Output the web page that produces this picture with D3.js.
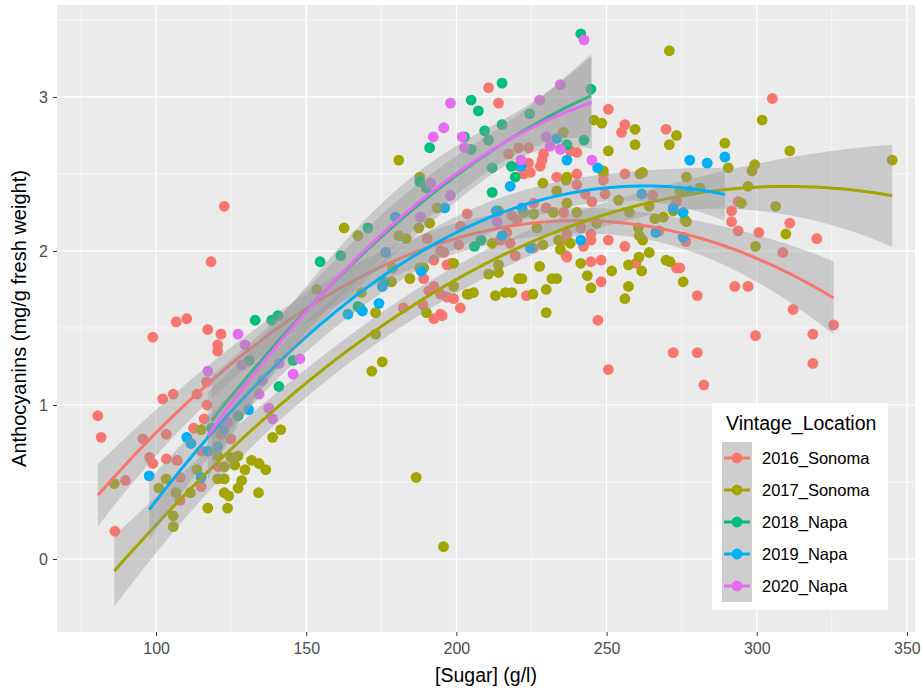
<!DOCTYPE html>
<html><head><meta charset="utf-8">
<script src="https://cdn.jsdelivr.net/npm/d3@7"></script>
<style>body{margin:0;background:#fff}svg{display:block}</style>
</head><body>
<svg id="chart" width="922" height="691"></svg>
<script>
const groups = ["2016_Sonoma","2017_Sonoma","2018_Napa","2019_Napa","2020_Napa"];
const colors = ["#F8766D","#A3A500","#00BF7D","#00B0F6","#E76BF3"];
const xTicks = [100,150,200,250,300,350];
const yTicks = [0,1,2,3];

const sonoma2016 = [[80.6,0.93],[81.7,0.79],[86.3,0.18],[89.8,0.51],[95.6,0.78],[97.8,0.66],[98.9,0.62],[98.9,1.44],[102.2,1.04],[103.4,0.81],[103.4,0.65],[105.7,1.07],[106.7,1.54],[107.0,0.64],[108.0,0.53],[108.0,0.38],[110.2,1.56],[112.5,0.85],[113.6,1.07],[115.0,0.70],[115.0,0.47],[116.0,0.91],[116.8,1.15],[117.0,1.00],[117.2,1.49],[118.3,1.93],[120.5,1.39],[120.5,1.35],[120.7,0.60],[121.6,1.46],[121.6,0.81],[122.7,2.29],[124.9,0.78],
[182.3,1.63],[188.9,1.65],[189.1,1.82],[190.3,2.08],[190.8,1.74],[192.5,1.94],[192.5,1.77],[192.5,1.56],[194.7,2.00],[194.7,1.72],[194.7,1.59],[195.2,1.58],[195.8,1.99],[196.9,1.91],[196.9,1.70],[198.3,1.92],[199.1,1.69],[200.8,2.04],[201.3,2.16],[201.3,1.63],[203.6,2.24],[210.7,3.06],[214.0,2.96],[214.6,2.07],[216.8,2.12],[217.4,2.63],[217.9,2.05],[218.5,2.23],[219.6,1.97],[220.2,2.20],[220.7,2.55],[220.7,2.67],[222.4,2.50],[223.3,1.71],[224.0,2.57],[224.0,2.67],[224.6,2.51],[225.5,2.02],[225.7,2.31],[227.9,2.55],[228.5,2.59],[229.0,2.63],[229.9,2.28],[233.4,2.48],[235.7,2.25],[235.7,2.07],[236.2,2.08],[236.5,1.97],[236.8,2.11],[236.8,1.96],[237.9,2.65],[240.1,2.64],[240.1,2.50],[240.1,2.43],[241.4,2.15],[242.3,2.03],[242.9,2.37],[244.8,2.11],[244.8,2.07],[244.8,1.93],[245.1,2.32],[247.1,1.55],[248.2,1.94],[248.2,1.80],[248.9,2.50],[248.9,2.46],[249.5,2.37],[250.6,2.92],[250.6,2.07],[250.6,1.23],[255.0,2.77],[256.1,2.82],[256.1,2.50],[256.1,2.03],[259.8,1.92],[265.3,2.36],[267.5,2.13],[269.8,2.79],[272.2,1.34],[273.3,2.32],[273.3,1.89],[274.4,1.89],[276.4,2.06],[280.2,1.71],[280.2,1.34],[282.4,1.13],[291.6,2.26],[291.6,2.19],[292.7,1.77],[293.8,2.32],[293.8,2.13],[297.1,1.77],[299.6,1.45],[300.7,2.12],[305.2,2.99],[308.7,1.99],[311.0,2.18],[312.1,1.62],[318.7,1.46],[318.7,1.27],[320.0,2.08],[325.6,1.52]];

const sonoma2017 = [[86.1,0.49],[100.9,0.46],[103.3,0.52],[105.7,0.28],[105.7,0.21],[106.6,0.43],[111.4,0.43],[113.6,0.58],[115.0,0.84],[117.2,0.33],[120.5,0.67],[120.5,0.52],[122.7,0.60],[122.7,0.52],[122.7,0.43],[123.8,0.33],[124.2,0.41],[124.9,0.66],[126.2,0.61],[127.3,0.67],[127.3,0.46],[128.5,0.51],[129.6,0.58],[131.8,0.64],[134.1,0.43],[134.3,0.62],[136.5,0.58],[138.8,0.79],[141.5,0.84],[153.5,1.75],[162.6,2.15],[167.2,2.10],[168.4,1.73],[171.8,1.22],[173.1,1.60],[173.1,1.46],[175.3,1.28],[178.4,1.80],[178.7,1.89],[180.8,2.59],[180.8,2.10],[183.3,2.08],[184.5,1.82],[186.6,0.53],[187.5,2.15],[187.8,2.48],[187.8,1.89],[189.1,1.89],[190.0,1.60],[191.1,2.18],[193.6,2.28],[195.7,0.08],[199.1,1.92],[199.1,1.77],[203.6,1.72],[204.1,1.72],[205.7,1.73],[210.7,1.85],[211.9,2.05],[213.0,1.71],[214.0,2.26],[214.0,1.91],[214.0,1.86],[216.3,1.73],[218.5,1.73],[220.7,1.82],[221.8,1.82],[222.4,2.25],[225.5,1.72],[225.7,2.24],[226.8,2.15],[227.7,1.90],[228.8,2.44],[228.8,2.04],[229.9,1.75],[229.9,1.60],[231.8,1.82],[232.3,2.25],[233.4,2.39],[233.4,1.82],[234.0,2.07],[234.6,2.01],[235.6,2.77],[236.5,2.46],[236.8,2.48],[236.8,2.31],[237.9,2.05],[240.1,2.25],[241.4,1.92],[243.6,1.84],[244.8,1.76],[245.8,2.85],[246.7,2.18],[248.4,2.83],[248.9,2.52],[250.6,2.65],[251.7,1.87],[254.0,2.33],[256.1,1.69],[257.3,1.91],[257.3,1.77],[257.6,2.25],[259.5,2.79],[259.5,2.69],[260.6,2.15],[260.8,1.96],[260.9,2.10],[261.1,2.50],[261.7,1.87],[262.0,2.51],[262.0,2.07],[264.2,2.29],[264.2,1.99],[266.1,2.21],[268.9,2.22],[269.8,1.94],[270.9,3.30],[270.9,2.69],[271.1,1.93],[272.2,2.26],[273.3,2.75],[274.4,2.39],[275.5,1.80],[276.1,2.20],[276.6,2.48],[276.6,2.19],[281.1,2.41],[289.4,2.70],[290.5,2.54],[294.9,2.31],[297.1,2.42],[298.4,2.52],[299.3,2.56],[299.6,2.03],[301.8,2.85],[306.3,2.29],[309.7,2.11],[311.0,2.65],[345.1,2.59]];

const napa2018 = [[118.5,0.85],[127.3,0.93],[131.0,1.29],[133.0,1.55],[138.5,1.55],[140.6,1.58],[140.9,1.12],[145.6,1.29],[154.6,1.93],[161.5,1.97],[167.2,1.64],[167.9,1.63],[170.5,2.15],[175.9,1.80],[187.8,2.45],[190.0,2.41],[191.1,2.67],[202.7,2.74],[204.9,2.98],[204.9,2.66],[206.0,2.03],[207.3,2.91],[208.2,2.07],[209.4,2.78],[210.7,2.72],[211.9,2.54],[211.9,2.38],[215.2,3.09],[215.2,2.82],[218.3,2.55],[219.6,2.48],[224.4,2.89],[236.8,2.69],[241.4,3.41],[242.5,2.72],[244.8,3.05]];

const napa2019 = [[97.7,0.54],[110.2,0.79],[111.6,0.75],[115.0,0.53],[117.2,0.70],[120.5,0.73],[122.5,0.84],[130.8,0.97],[163.9,1.59],[168.7,1.61],[174.2,1.66],[175.3,1.77],[176.4,1.99],[179.7,2.22],[188.3,1.87],[196.1,2.28],[213.3,2.26],[215.2,2.10],[217.9,2.42],[221.5,2.55],[221.8,2.28],[224.6,2.02],[233.4,2.73],[236.8,2.59],[241.4,2.07],[247.0,2.54],[261.7,2.37],[266.4,2.12],[272.2,2.28],[275.5,2.25],[275.5,2.09],[277.7,2.59],[277.7,2.39],[283.5,2.57],[289.4,2.61]];

const napa2020 = [[117.2,1.22],[123.8,0.89],[127.3,1.46],[128.5,1.26],[129.6,1.39],[134.3,1.07],[135.4,1.16],[137.5,0.98],[138.8,0.91],[141.0,1.27],[145.6,1.20],[147.9,1.30],[188.0,2.22],[191.4,2.44],[192.3,2.74],[195.8,2.80],[198.0,2.96],[198.0,2.36],[201.9,2.74],[202.7,2.67],[213.5,2.19],[221.5,2.59],[227.7,2.98],[229.9,2.74],[231.2,2.68],[234.6,3.08],[234.6,2.66],[242.5,3.37],[245.1,2.59]];

const seriesData = [sonoma2016, sonoma2017, napa2018, napa2019, napa2020];

const FONT = "Liberation Sans, Arial, Helvetica, sans-serif";
const svg = d3.select("#chart");
const P = {l:57, r:915, t:5, b:632};
const x = d3.scaleLinear().domain([67.0, 352.7]).range([P.l, P.r]);
const y = d3.scaleLinear().domain([-0.474, 3.597]).range([P.b, P.t]);

svg.append("rect").attr("x",P.l).attr("y",P.t).attr("width",P.r-P.l).attr("height",P.b-P.t).attr("fill","#EBEBEB");
const grid = svg.append("g");
const xMinor = [75,125,175,225,275,325], yMinor = [-0.5,0.5,1.5,2.5,3.5];
xMinor.forEach(v=>grid.append("line").attr("x1",x(v)).attr("x2",x(v)).attr("y1",P.t).attr("y2",P.b).attr("stroke","#fff").attr("stroke-width",0.6));
yMinor.filter(v=>y(v)>=P.t && y(v)<=P.b).forEach(v=>grid.append("line").attr("y1",y(v)).attr("y2",y(v)).attr("x1",P.l).attr("x2",P.r).attr("stroke","#fff").attr("stroke-width",0.6));
xTicks.forEach(v=>grid.append("line").attr("x1",x(v)).attr("x2",x(v)).attr("y1",P.t).attr("y2",P.b).attr("stroke","#fff").attr("stroke-width",1.2));
yTicks.forEach(v=>grid.append("line").attr("y1",y(v)).attr("y2",y(v)).attr("x1",P.l).attr("x2",P.r).attr("stroke","#fff").attr("stroke-width",1.2));

// quadratic least-squares fit with 95% confidence band
function quadFit(pts){
  const n = pts.length;
  const mx = d3.mean(pts,d=>d[0]);
  const S = [[0,0,0],[0,0,0],[0,0,0]], b=[0,0,0];
  pts.forEach(([xx,yy])=>{const u=xx-mx; const v=[1,u,u*u];
    for(let i=0;i<3;i++){b[i]+=v[i]*yy; for(let j=0;j<3;j++) S[i][j]+=v[i]*v[j];}});
  const a=S; const det = a[0][0]*(a[1][1]*a[2][2]-a[1][2]*a[2][1]) - a[0][1]*(a[1][0]*a[2][2]-a[1][2]*a[2][0]) + a[0][2]*(a[1][0]*a[2][1]-a[1][1]*a[2][0]);
  const inv = [
    [(a[1][1]*a[2][2]-a[1][2]*a[2][1])/det, (a[0][2]*a[2][1]-a[0][1]*a[2][2])/det, (a[0][1]*a[1][2]-a[0][2]*a[1][1])/det],
    [(a[1][2]*a[2][0]-a[1][0]*a[2][2])/det, (a[0][0]*a[2][2]-a[0][2]*a[2][0])/det, (a[0][2]*a[1][0]-a[0][0]*a[1][2])/det],
    [(a[1][0]*a[2][1]-a[1][1]*a[2][0])/det, (a[0][1]*a[2][0]-a[0][0]*a[2][1])/det, (a[0][0]*a[1][1]-a[0][1]*a[1][0])/det]];
  const coef = inv.map(r=>r[0]*b[0]+r[1]*b[1]+r[2]*b[2]);
  let rss=0; pts.forEach(([xx,yy])=>{const u=xx-mx; const f=coef[0]+coef[1]*u+coef[2]*u*u; rss+=(yy-f)*(yy-f);});
  const df=n-3, s2=rss/df, t=1.96+2.37/df;
  const [x0,x1]=d3.extent(pts,d=>d[0]);
  return d3.range(81).map(i=>{const xx=x0+(x1-x0)*i/80; const u=xx-mx; const v=[1,u,u*u];
    const f=coef[0]+coef[1]*u+coef[2]*u*u;
    let q=0; for(let i2=0;i2<3;i2++)for(let j=0;j<3;j++) q+=v[i2]*inv[i2][j]*v[j];
    const se=Math.sqrt(s2*q); return {x:xx,y:f,lo:f-t*se,hi:f+t*se};});
}

svg.append("clipPath").attr("id","clip").append("rect").attr("x",P.l).attr("y",P.t).attr("width",P.r-P.l).attr("height",P.b-P.t);
const plot = svg.append("g").attr("clip-path","url(#clip)");

seriesData.forEach((pts,gi)=>{
  plot.append("g").selectAll("circle").data(pts).join("circle")
    .attr("cx",d=>x(d[0])).attr("cy",d=>y(d[1])).attr("r",5.4).attr("fill",colors[gi]);
});
seriesData.forEach((pts,gi)=>{
  const fit = quadFit(pts);
  plot.append("path").datum(fit).attr("d",d3.area().x(d=>x(d.x)).y0(d=>y(d.lo)).y1(d=>y(d.hi)))
    .attr("fill","#999999").attr("fill-opacity",0.4);
  plot.append("path").datum(fit).attr("d",d3.line().x(d=>x(d.x)).y(d=>y(d.y)))
    .attr("fill","none").attr("stroke",colors[gi]).attr("stroke-width",3);
});

// axes
const xa = svg.append("g").attr("transform",`translate(0,${P.b})`)
  .call(d3.axisBottom(x).tickValues(xTicks).tickFormat(d3.format("d")).tickSize(4).tickPadding(4));
const ya = svg.append("g").attr("transform",`translate(${P.l},0)`)
  .call(d3.axisLeft(y).tickValues(yTicks).tickFormat(d3.format("d")).tickSize(4).tickPadding(5));
[xa,ya].forEach(a=>{a.select(".domain").remove();
  a.selectAll(".tick line").attr("stroke","#333");
  a.selectAll("text").attr("fill","#4D4D4D").style("font-family",FONT).style("font-size","16px");});
xa.selectAll("text").attr("dy","0.9em");

svg.append("text").attr("x",(P.l+P.r)/2).attr("y",682).attr("text-anchor","middle")
  .style("font-family",FONT).style("font-size","19.5px").text("[Sugar] (g/l)");
svg.append("text").attr("transform",`translate(26,${(P.t+P.b)/2}) rotate(-90)`).attr("text-anchor","middle")
  .style("font-family",FONT).style("font-size","20px").text("Anthocyanins (mg/g fresh weight)");

// legend
const lg = svg.append("g").attr("transform","translate(712,403)");
lg.append("rect").attr("width",176).attr("height",207).attr("fill","#fff");
lg.append("text").attr("x",14).attr("y",27).style("font-family",FONT).style("font-size","19.5px").text("Vintage_Location");
groups.forEach((g,i)=>{
  const cy = 55 + i*32;
  lg.append("rect").attr("x",10).attr("y",cy-16).attr("width",30).attr("height",32).attr("fill","#F2F2F2");
  lg.append("rect").attr("x",10).attr("y",cy-16).attr("width",30).attr("height",32).attr("fill","#999999").attr("fill-opacity",0.4);
  lg.append("line").attr("x1",12).attr("x2",38).attr("y1",cy).attr("y2",cy).attr("stroke",colors[i]).attr("stroke-width",3);
  lg.append("circle").attr("cx",25).attr("cy",cy).attr("r",5.4).attr("fill",colors[i]);
  lg.append("text").attr("x",50).attr("y",cy+6).style("font-family",FONT).style("font-size","16.5px").attr("fill","#000").text(g);
});
</script>
</body></html>
